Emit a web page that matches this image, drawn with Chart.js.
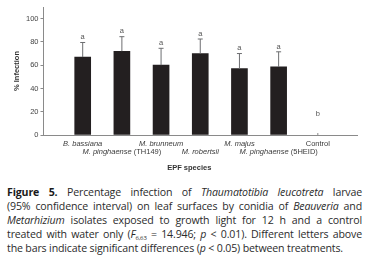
<!DOCTYPE html>
<html>
<head>
<meta charset="utf-8">
<script src="https://cdn.jsdelivr.net/npm/chart.js@4.4.1/dist/chart.umd.min.js"></script>
<style>
  html, body { margin: 0; padding: 0; background: #fff; }
  body { width: 367px; height: 269px; position: relative; overflow: hidden; }
  #wrap { position: absolute; left: 0; top: 0; width: 367px; height: 180px; }
  #caption {
    position: absolute; left: 7px; top: 185px; width: 355px;
    font-family: "Open Sans", sans-serif; font-size: 10.6px; line-height: 14px;
    color: #2b2b2b; letter-spacing: -0.15px;
  }
  #caption div { height: 14px; text-align: justify; text-align-last: justify; white-space: nowrap; }
  #caption div.last { text-align-last: left; }
  #caption b { font-weight: 700; color: #1a1a1a; }
  #caption sub { font-size: 6px; line-height: 0; vertical-align: -2px; }
</style>
</head>
<body>
<div id="wrap"><canvas id="bars" width="367" height="180"></canvas></div>
<div id="caption">
  <div><b>Figure 5.</b> Percentage infection of <i>Thaumatotibia leucotreta</i> larvae</div>
  <div>(95% confidence interval) on leaf surfaces by conidia of <i>Beauveria</i> and</div>
  <div><i>Metarhizium</i> isolates exposed to growth light for 12 h and a control</div>
  <div>treated with water only (<i>F</i><sub>6,63</sub> = 14.946; <i>p</i> &lt; 0.01). Different letters above</div>
  <div class="last">the bars indicate significant differences (<i>p</i> &lt; 0.05) between treatments.</div>
</div>
<script>
// data
const species = ['B. bassiana', 'M. pinghaense (TH149)', 'M. brunneum', 'M. robertsii',
  'M. majus', 'M. pinghaense (5HEID)', 'Control'];
const infection = [67, 72, 60, 70, 57, 58.5, 0];
const ciUpper = [79.5, 84.5, 74.5, 82.5, 70, 71.5, 0];
const letters = ['a', 'a', 'a', 'a', 'a', 'a', 'b'];
const yTicks = [0, 20, 40, 60, 80, 100];

// empty slots at both ends so the bars sit one step in from the axis ends
const labels = [''].concat(species, ['']);
const pad = v => [null].concat(v, [null]);

const extras = {
  id: 'extras',
  afterDatasetsDraw(chart) {
    const ctx = chart.ctx;
    const x = chart.scales.x, y = chart.scales.y;
    const base = chart.chartArea.bottom;
    ctx.save();
    // error bars (upper side only) and letters
    species.forEach((s, i) => {
      const px = x.getPixelForValue(i + 1);
      if (ciUpper[i] > infection[i]) {
        const top = y.getPixelForValue(ciUpper[i]);
        ctx.strokeStyle = '#6d6e71';
        ctx.lineWidth = 1;
        ctx.beginPath();
        ctx.moveTo(px, y.getPixelForValue(infection[i]));
        ctx.lineTo(px, top);
        ctx.moveTo(px - 2.5, top);
        ctx.lineTo(px + 2.5, top);
        ctx.stroke();
      } else {
        // small tick on the axis where there is no bar
        ctx.strokeStyle = '#8a8a8a';
        ctx.beginPath();
        ctx.moveTo(px, base);
        ctx.lineTo(px, base - 2);
        ctx.stroke();
      }
      ctx.fillStyle = '#555';
      ctx.font = '7.5px "Liberation Sans", Arial, sans-serif';
      ctx.textAlign = 'center';
      ctx.textBaseline = 'bottom';
      ctx.fillText(letters[i], px, y.getPixelForValue(Math.max(ciUpper[i], 14)) - 1.5);
    });
    // x labels, staggered in two rows, species names in italics
    const fam = '7.5px "Liberation Sans", Arial, sans-serif';
    species.forEach((s, i) => {
      const px = x.getPixelForValue(i + 1);
      const py = base + 9 + (i % 2) * 8;
      let parts;
      if (s === 'Control') parts = [[s, '']];
      else if (s.indexOf(' (') > 0) {
        const k = s.indexOf(' (');
        parts = [[s.slice(0, k + 1), 'italic '], [s.slice(k + 1), '']];
      } else parts = [[s, 'italic ']];
      let w = 0;
      parts.forEach(p => { ctx.font = p[1] + fam; w += ctx.measureText(p[0]).width; });
      let cx = px - w / 2;
      ctx.fillStyle = '#3a3a3a';
      ctx.textAlign = 'left';
      ctx.textBaseline = 'middle';
      parts.forEach(p => {
        ctx.font = p[1] + fam;
        ctx.fillText(p[0], cx, py);
        cx += ctx.measureText(p[0]).width;
      });
    });
    ctx.font = 'bold 7.5px "Liberation Sans", Arial, sans-serif';
    ctx.fillStyle = '#333';
    ctx.textAlign = 'center';
    ctx.textBaseline = 'middle';
    ctx.fillText('EPF species', (x.left + x.right) / 2 - 11, base + 33);
    ctx.restore();
  }
};

new Chart('bars', {
  type: 'bar',
  data: {
    labels: labels,
    datasets: [{
      data: pad(infection),
      backgroundColor: ctx => (ctx.raw ? '#231f20' : 'rgba(0,0,0,0)'),
      borderWidth: 0,
      barThickness: 16
    }]
  },
  options: {
    responsive: false,
    animation: false,
    layout: { padding: { left: 12, top: 7, right: 10, bottom: 37 } },
    plugins: { legend: { display: false }, tooltip: { enabled: false } },
    scales: {
      x: {
        offset: false,
        grid: { display: false },
        border: { color: '#8a8a8a', width: 1 },
        ticks: { display: false }
      },
      y: {
        min: 0,
        max: 110,
        afterBuildTicks: axis => { axis.ticks = yTicks.map(v => ({ value: v })); },
        grid: { drawOnChartArea: false, drawTicks: true, tickLength: 3, color: '#8a8a8a' },
        border: { color: '#8a8a8a', width: 1 },
        ticks: {
          padding: 2,
          color: '#444',
          font: { family: '"Liberation Sans", Arial, sans-serif', size: 7.5 }
        },
        title: {
          display: true,
          text: '% Infection',
          color: '#333',
          padding: { top: 0, bottom: 3 },
          font: { family: '"Liberation Sans", Arial, sans-serif', size: 7.5, weight: 'bold' }
        }
      }
    }
  },
  plugins: [extras]
});
</script>
</body>
</html>
